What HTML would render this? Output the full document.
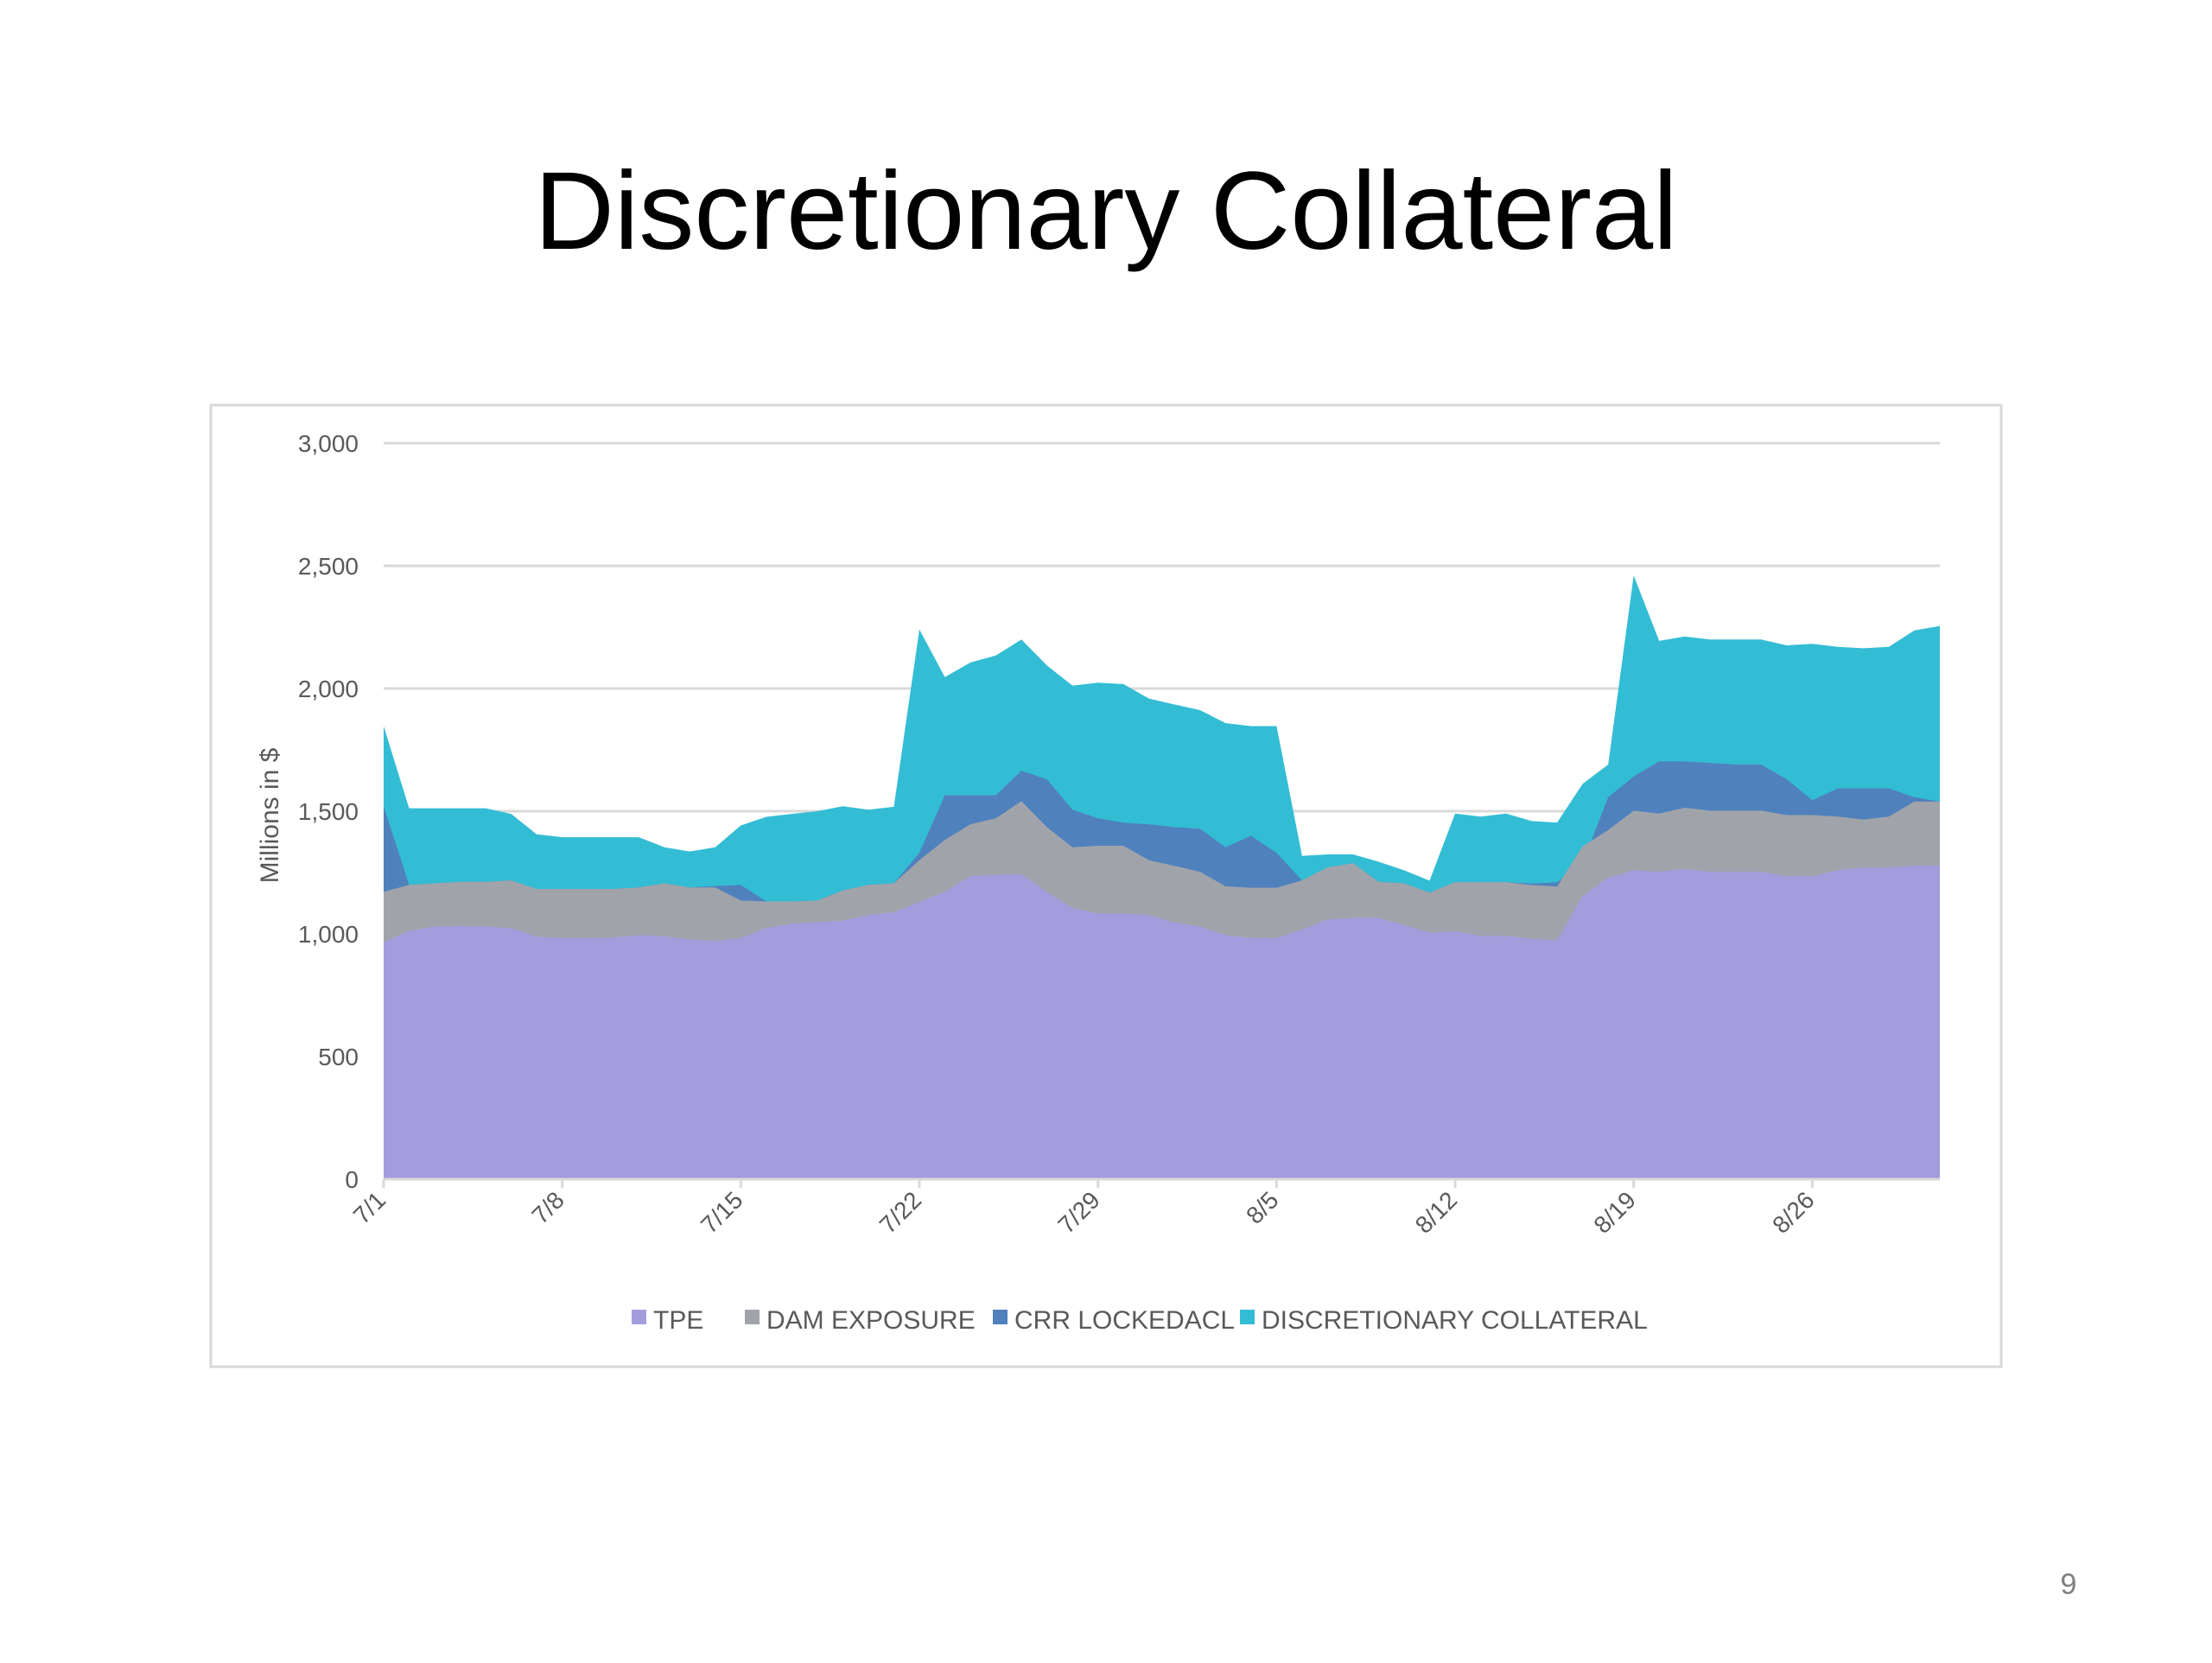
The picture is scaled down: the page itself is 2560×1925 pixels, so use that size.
<!DOCTYPE html>
<html><head><meta charset="utf-8"><style>
body{margin:0;width:2560px;height:1920px;background:#fff;overflow:hidden;font-family:"Liberation Sans",sans-serif}
</style></head><body>
<svg id="chart" width="2560" height="1920" viewBox="0 0 2560 1920" xmlns="http://www.w3.org/2000/svg">
<text x="1280" y="288" text-anchor="middle" font-size="128" fill="#000" font-family="Liberation Sans, sans-serif">Discretionary Collateral</text>
<rect x="244" y="469" width="2072" height="1113" fill="#fff" stroke="#d9d9d9" stroke-width="3"/>
<g id="grid"></g><g id="areas"></g><g id="yticks"></g><g id="xticks"></g>
<text transform="translate(322,944) rotate(-90)" text-anchor="middle" font-size="30" fill="#595959">Millions in $</text>
<g id="legend" font-size="30" fill="#595959">
<rect x="731" y="1516" width="17" height="17" fill="#a39ddd"/>
<text x="756" y="1538">TPE</text>
<rect x="862" y="1516" width="17" height="17" fill="#a0a4aa"/>
<text x="887" y="1538">DAM EXPOSURE</text>
<rect x="1149" y="1516" width="17" height="17" fill="#4f81bd"/>
<text x="1174" y="1538">CRR LOCKEDACL</text>
<rect x="1435" y="1516" width="17" height="17" fill="#33bdd4"/>
<text x="1460" y="1538">DISCRETIONARY COLLATERAL</text>
</g>
<text x="2394" y="1845" text-anchor="middle" font-size="34" fill="#7f7f7f">9</text>
</svg>
<script>
const tpe=[965,1012,1030,1032,1030,1024,989,983,983,985,995,990,977,971,983,1024,1042,1048,1054,1077,1089,1130,1171,1236,1241,1244,1171,1106,1083,1083,1077,1047,1030,995,983,983,1018,1059,1065,1065,1036,1005,1011,992,992,980,974,1156,1229,1259,1253,1265,1253,1253,1253,1235,1235,1259,1271,1271,1278,1278];
const dam=[1171,1200,1206,1212,1212,1218,1183,1183,1183,1183,1189,1206,1189,1189,1136,1132,1132,1136,1177,1200,1206,1300,1383,1447,1471,1541,1435,1353,1359,1359,1300,1277,1253,1194,1188,1188,1218,1271,1288,1212,1206,1168,1211,1211,1211,1199,1193,1357,1423,1502,1490,1514,1502,1502,1502,1484,1484,1478,1466,1478,1539,1539];
const crr=[1520,1200,1206,1212,1212,1218,1183,1183,1183,1183,1189,1206,1189,1195,1200,1132,1132,1136,1177,1200,1206,1330,1565,1565,1565,1665,1630,1506,1471,1453,1447,1435,1429,1353,1400,1330,1218,1271,1288,1212,1206,1168,1211,1211,1211,1205,1210,1290,1557,1642,1703,1703,1697,1690,1690,1630,1545,1593,1593,1593,1557,1539];
const disc=[1847,1512,1512,1512,1512,1489,1406,1394,1394,1394,1394,1353,1336,1353,1442,1477,1489,1500,1520,1506,1518,2241,2047,2106,2135,2200,2094,2012,2024,2018,1959,1935,1912,1859,1847,1847,1318,1324,1324,1294,1259,1217,1490,1478,1490,1460,1454,1612,1690,2461,2194,2212,2200,2200,2200,2176,2182,2170,2164,2170,2237,2255];
const yTicks=[0,500,1000,1500,2000,2500,3000];
const yTickLabels=["0","500","1,000","1,500","2,000","2,500","3,000"];
const xTickIdx=[0,7,14,21,28,35,42,49,56];
const xTickLabels=["7/1","7/8","7/15","7/22","7/29","8/5","8/12","8/19","8/26"];
const NS="http://www.w3.org/2000/svg";
const X0=444,X1=2245,Y0=1365,Y3=513;
const n=tpe.length;
function xs(i){return X0+i*(X1-X0)/(n-1);}
function ys(v){return Y0-(v/3000)*(Y0-Y3);}
const grid=document.getElementById('grid'),yt=document.getElementById('yticks'),xt=document.getElementById('xticks'),ar=document.getElementById('areas');
yTicks.forEach((v,k)=>{
 const l=document.createElementNS(NS,'line');
 l.setAttribute('x1',X0);l.setAttribute('x2',X1);l.setAttribute('y1',ys(v));l.setAttribute('y2',ys(v));
 l.setAttribute('stroke','#d9d9d9');l.setAttribute('stroke-width','3');
 
 
 grid.appendChild(l);
 const t=document.createElementNS(NS,'text');
 t.setAttribute('x',415);t.setAttribute('y',ys(v)+10);t.setAttribute('text-anchor','end');
 t.setAttribute('font-size','28');t.setAttribute('fill','#595959');t.textContent=yTickLabels[k];
 
 
 yt.appendChild(t);
});
function area(vals,color,name){
 let d='M'+xs(0)+','+ys(0);
 vals.forEach((v,i)=>{d+=' L'+xs(i).toFixed(1)+','+ys(v).toFixed(1);});
 d+=' L'+xs(n-1)+','+ys(0)+' Z';
 const p=document.createElementNS(NS,'path');
 p.setAttribute('d',d);p.setAttribute('fill',color);
 
 
 ar.appendChild(p);
}
area(disc,'#33bdd4','area-discretionary-collateral');
area(crr,'#4f81bd','area-crr-lockedacl');
area(dam,'#a0a4aa','area-dam-exposure');
area(tpe,'#a39ddd','area-tpe');
const ax=document.createElementNS(NS,'line');
ax.setAttribute('x1',X0);ax.setAttribute('x2',X1);ax.setAttribute('y1',Y0);ax.setAttribute('y2',Y0);
ax.setAttribute('stroke','#d9d9d9');ax.setAttribute('stroke-width','3');


xt.appendChild(ax);
xTickIdx.forEach((i,k)=>{
 const x=xs(i);
 const tk=document.createElementNS(NS,'line');
 tk.setAttribute('x1',x);tk.setAttribute('x2',x);tk.setAttribute('y1',Y0);tk.setAttribute('y2',Y0+10);
 tk.setAttribute('stroke','#d9d9d9');tk.setAttribute('stroke-width','3');
 
 
 xt.appendChild(tk);
 const t=document.createElementNS(NS,'text');
 t.setAttribute('transform','translate('+(x+4)+','+(Y0+26)+') rotate(-45)');
 t.setAttribute('text-anchor','end');t.setAttribute('font-size','28');t.setAttribute('fill','#595959');
 t.textContent=xTickLabels[k];
 
 
 xt.appendChild(t);
});
</script>
</body></html>
